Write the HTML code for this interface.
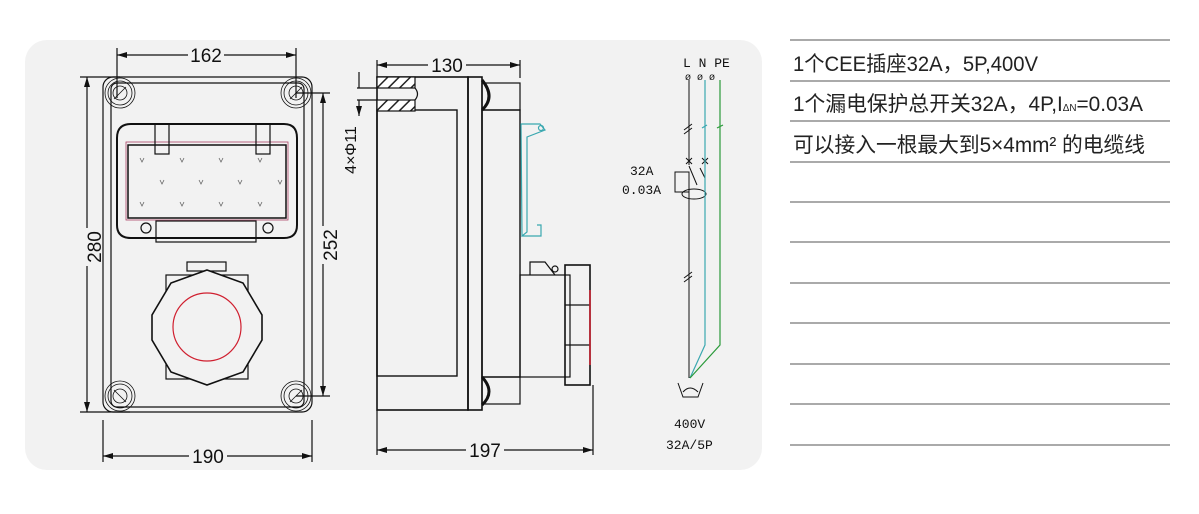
<!DOCTYPE html>
<html><head><meta charset="utf-8"><style>
html,body{margin:0;padding:0;background:#fff;}
svg{display:block}
.s{font-family:"Liberation Sans","Noto Sans CJK SC",sans-serif;}
.m{font-family:"Liberation Mono",monospace;}
</style></head><body>
<svg width="1199" height="514" viewBox="0 0 1199 514" xmlns="http://www.w3.org/2000/svg">
<defs>
<marker id="ar" viewBox="0 0 10 6" refX="10" refY="3" markerWidth="10" markerHeight="6" orient="auto-start-reverse" markerUnits="userSpaceOnUse"><path d="M0,0L10,3L0,6z" fill="#111"/></marker>
<pattern id="hat" width="8" height="8" patternUnits="userSpaceOnUse" patternTransform="rotate(45)"><rect width="8" height="8" fill="#fff"/><line x1="0" y1="0" x2="0" y2="8" stroke="#222" stroke-width="3"/></pattern>
</defs>
<rect x="25" y="40" width="737" height="430" rx="22" fill="#f2f2f2"/>
<g stroke="#111" fill="none" stroke-width="1.2">
<rect x="103" y="77" width="209" height="335" rx="10"/>
<rect x="111" y="83" width="193" height="324" rx="6"/>
<g stroke-width="0.8">
<circle cx="120" cy="93" r="15"/><circle cx="120" cy="93" r="12"/><circle cx="120" cy="93" r="7"/>
<circle cx="296" cy="93" r="15"/><circle cx="296" cy="93" r="12"/><circle cx="296" cy="93" r="7"/>
<circle cx="120" cy="396" r="15"/><circle cx="120" cy="396" r="12"/><circle cx="120" cy="396" r="7"/>
<circle cx="296" cy="396" r="15"/><circle cx="296" cy="396" r="12"/><circle cx="296" cy="396" r="7"/>
<path d="M114,99L126,87M114,390L126,402M290,99L302,87M290,402L302,390"/>
</g>
<path d="M117,138 Q117,124 131,124 L284,124 Q297,124 297,138 L297,225 Q297,238 284,238 L131,238 Q117,238 117,225Z" stroke-width="2"/>
<rect x="126" y="142" width="162" height="78" stroke="#a46" stroke-width="0.8"/>
<rect x="128" y="145" width="158" height="73" stroke-width="1.5"/>
<rect x="155" y="124" width="14" height="30"/><rect x="256" y="124" width="14" height="30"/>
<rect x="156" y="221" width="100" height="21"/>
<circle cx="146" cy="228" r="5"/><circle cx="268" cy="228" r="5"/>
<g stroke="#666" stroke-width="0.8">
<path d="M140,158l2,4l2,-4M180,158l2,4l2,-4M219,158l2,4l2,-4M258,158l2,4l2,-4M160,180l2,4l2,-4M199,180l2,4l2,-4M238,180l2,4l2,-4M278,180l2,4l2,-4M140,202l2,4l2,-4M180,202l2,4l2,-4M219,202l2,4l2,-4M258,202l2,4l2,-4"/>
</g>
<rect x="187" y="262" width="39" height="9"/>
<rect x="166" y="275" width="82" height="104"/>
<polygon points="207,270 243,283 262,315 262,340 243,372 207,385 171,372 152,340 152,315 171,283" stroke-width="1.6" fill="#f2f2f2"/>
<circle cx="207" cy="327" r="34" stroke="#d02030"/>
<line x1="117" y1="55" x2="296" y2="55" marker-start="url(#ar)" marker-end="url(#ar)"/>
<path d="M117,48V98M296,48V98M103,420V462M312,420V462M80,77H120M80,412H130M296,93H330M296,396H330"/>
<line x1="103" y1="456" x2="312" y2="456" marker-start="url(#ar)" marker-end="url(#ar)"/>
<line x1="87" y1="77" x2="87" y2="412" marker-start="url(#ar)" marker-end="url(#ar)"/>
<line x1="323" y1="93" x2="323" y2="396" marker-start="url(#ar)" marker-end="url(#ar)"/>
<rect x="377" y="77" width="91" height="333" stroke-width="1.6"/>
<rect x="377" y="110" width="80" height="266" stroke-width="1.4"/>
<rect x="377" y="77" width="38" height="11" fill="url(#hat)"/>
<rect x="377" y="100" width="38" height="11" fill="url(#hat)"/>
<path d="M415,88 Q420,94 415,100"/>
<rect x="468" y="77" width="14" height="333" stroke-width="1.6"/>
<rect x="482" y="83" width="38" height="27"/>
<rect x="482" y="110" width="38" height="267" stroke-width="1.4"/>
<rect x="482" y="377" width="38" height="27"/>
<path d="M482,80Q496,97 482,110M482,377Q496,392 482,405" stroke-width="3"/>
<g stroke="#3aa8b0"><path d="M521,124L540,124L545,130L527,137L527,232L522,236Z M527,137L545,130M537,225L541,225L541,236L522,236"/><circle cx="541" cy="128" r="2.5"/></g>
<rect x="520" y="275" width="50" height="102"/>
<path d="M530,275L530,262L545,262L555,275" />
<circle cx="555" cy="269" r="3"/>
<rect x="565" y="265" width="25" height="120" stroke-width="1.6"/>
<path d="M565,305H590M565,345H590"/>
<path d="M590,290V365" stroke="#d02030" stroke-width="1.5"/>
<line x1="377" y1="65" x2="520" y2="65" marker-start="url(#ar)" marker-end="url(#ar)"/>
<path d="M377,60V78M520,60V78M377,410V455M593,385V455M357,88H377M357,100H377"/>
<line x1="377" y1="450" x2="593" y2="450" marker-start="url(#ar)" marker-end="url(#ar)"/>
<path d="M359,72V88M359,100V116" marker-end="url(#ar)"/>
<g stroke-width="1">
<path d="M689,80V165M689,190V378"/>
<path d="M684,130l8,-6M684,134l8,-6M684,278l8,-6M684,282l8,-6"/>
<path d="M686,158l6,6M692,158l-6,6M702,158l6,6M708,158l-6,6"/>
<path d="M689,166L697,185M700,168L705,178"/>
<rect x="675" y="172" width="14" height="20"/>
<ellipse cx="694" cy="194" rx="12" ry="5"/>
<path d="M678,383L683,397H698L703,383M683,392Q690,384 698,392"/>
</g>
<path d="M705,80V345L690,378M702,128l5,-3" stroke="#3aa8b0"/>
<path d="M720,80V345L690,378M717,128l6,-3" stroke="#2a9a3a"/>
</g>
<g fill="#f2f2f2">
<rect x="188" y="45" width="36" height="20"/>
<rect x="189" y="446" width="38" height="20"/>
<rect x="77" y="228" width="20" height="38"/>
<rect x="313" y="226" width="20" height="38"/>
<rect x="428" y="55" width="38" height="20"/>
<rect x="466" y="440" width="38" height="20"/>
</g>
<g class="s" fill="#111" font-size="19" text-anchor="middle">
<text x="206" y="62">162</text>
<text x="208" y="463">190</text>
<text x="94" y="247" transform="rotate(-90 94 247)" dy="7">280</text>
<text x="330" y="245" transform="rotate(-90 330 245)" dy="7">252</text>
<text x="447" y="72">130</text>
<text x="485" y="457">197</text>
<text x="350" y="150" transform="rotate(-90 350 150)" font-size="16" dy="6">4×Φ11</text>
</g>
<g class="m" fill="#111" font-size="13">
<text x="683" y="67">L N PE</text>
<text x="685" y="80" font-size="10">ø  ø  ø</text>
<text x="630" y="175">32A</text>
<text x="622" y="194">0.03A</text>
<text x="674" y="428">400V</text>
<text x="666" y="449">32A/5P</text>
</g>
<g stroke="#aaa" stroke-width="2">
<path d="M790,40H1170M790,81H1170M790,121H1170M790,162H1170M790,202H1170M790,242H1170M790,283H1170M790,323H1170M790,364H1170M790,404H1170M790,445H1170"/>
</g>
<g class="s" fill="#222" font-size="21">
<text x="793" y="71" textLength="245" lengthAdjust="spacingAndGlyphs">1个CEE插座32A，5P,400V</text>
<text x="793" y="111" textLength="350" lengthAdjust="spacingAndGlyphs">1个漏电保护总开关32A，4P,I<tspan font-size="10">ΔN</tspan>=0.03A</text>
<text x="793" y="152" textLength="352" lengthAdjust="spacingAndGlyphs">可以接入一根最大到5×4mm² 的电缆线</text>
</g>
</svg>
</body></html>
